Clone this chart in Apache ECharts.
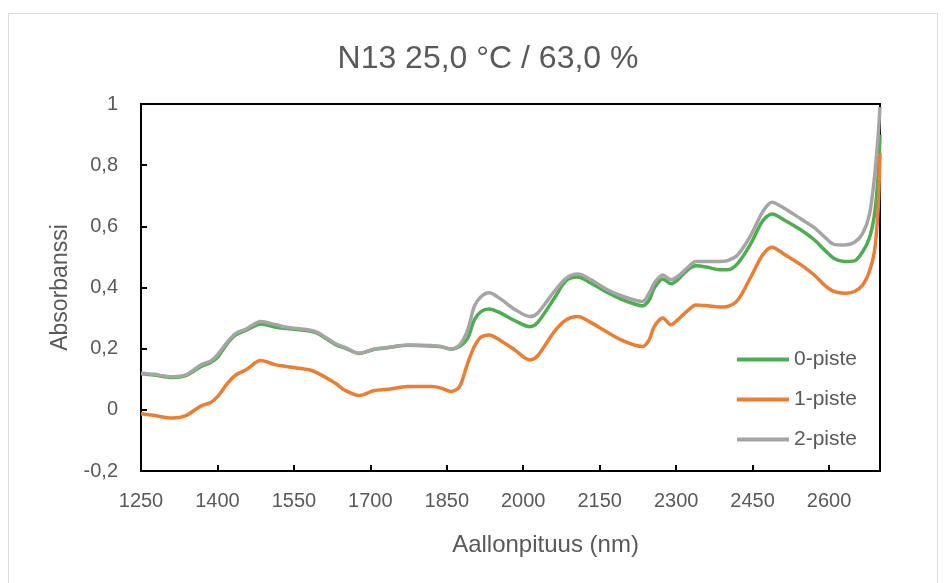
<!DOCTYPE html>
<html>
<head>
  <meta charset="UTF-8">
  <title>N13 25,0 °C / 63,0 %</title>
  <script src="https://cdn.jsdelivr.net/npm/echarts@6/dist/echarts.min.js"></script>
  <style>
    html, body { margin: 0; padding: 0; background: #fff; }
    #main { width: 944px; height: 583px; }
  </style>
</head>
<body>
<div id="main"></div>
<script type="text/javascript">
  // aallonpituudet (nm)
  var wavelengths = [1250,1275,1312,1338,1368,1387,1400,1420,1436,1456,1485,1515,1535,1580,1597,1633,1649,1678,1708,1734,
    1773,1819,1839,1858,1875,1891,1904,1917,1933,1956,1983,2013,2028,2061,2084,2107,2133,2166,2192,2218,
    2234,2247,2257,2274,2290,2303,2323,2339,2362,2385,2401,2421,2447,2470,2488,2512,2545,2571,2591,2610,
    2630,2650,2666,2679,2689,2696,2700];

  var piste0 = [0.118,0.114,0.106,0.112,0.142,0.155,0.172,0.218,0.245,0.26,0.281,0.27,0.266,0.258,0.25,0.212,0.203,0.184,0.198,0.203,
    0.211,0.209,0.206,0.198,0.207,0.234,0.294,0.321,0.33,0.316,0.292,0.272,0.285,0.365,0.422,0.434,0.414,0.383,0.362,0.346,
    0.34,0.359,0.398,0.428,0.412,0.425,0.458,0.471,0.466,0.458,0.458,0.479,0.545,0.618,0.64,0.621,0.588,0.556,0.523,0.495,
    0.485,0.487,0.517,0.561,0.637,0.757,0.9];

  var piste1 = [-0.013,-0.018,-0.027,-0.019,0.013,0.024,0.043,0.087,0.114,0.131,0.161,0.147,0.142,0.131,0.12,0.085,0.065,0.047,0.063,0.067,
    0.076,0.076,0.071,0.06,0.076,0.153,0.207,0.238,0.245,0.226,0.196,0.163,0.176,0.256,0.294,0.305,0.285,0.253,0.229,0.212,
    0.207,0.229,0.272,0.3,0.278,0.294,0.325,0.343,0.34,0.336,0.338,0.359,0.436,0.507,0.532,0.509,0.474,0.441,0.408,0.387,
    0.381,0.387,0.408,0.452,0.517,0.648,0.84];

  var piste2 = [0.12,0.116,0.108,0.114,0.147,0.16,0.18,0.223,0.25,0.264,0.289,0.278,0.27,0.261,0.253,0.215,0.205,0.185,0.199,0.204,
    0.212,0.21,0.207,0.199,0.212,0.261,0.338,0.37,0.383,0.362,0.329,0.305,0.316,0.387,0.43,0.444,0.425,0.392,0.373,0.359,
    0.354,0.381,0.414,0.441,0.425,0.436,0.466,0.485,0.485,0.485,0.488,0.507,0.572,0.648,0.679,0.659,0.624,0.596,0.566,0.541,
    0.539,0.548,0.577,0.637,0.757,0.888,0.99];

  var seriesNames = ['0-piste', '1-piste', '2-piste'];
  var seriesColors = ['#4cae4f', '#ed7d31', '#a5a5a5'];

  function pairs(vals){
    return wavelengths.map(function(w, i){ return [w, vals[i]]; });
  }

  var font = "'Liberation Sans', Arial, sans-serif";
  var grey = '#595959';

  var chart = echarts.init(document.getElementById('main'));
  chart.setOption({
    backgroundColor: '#fff',
    animation: false,
    title: {
      text: 'N13 25,0 °C / 63,0 %',
      left: 483, textAlign: 'center', top: 38,
      textStyle: { fontFamily: font, fontSize: 32, fontWeight: 'normal', color: grey }
    },
    graphic: [{
      type: 'rect', silent: true,
      shape: { x: 8.5, y: 13.5, width: 929, height: 620 },
      style: { fill: null, stroke: '#d9d9d9', lineWidth: 1 }
    }],
    legend: {
      orient: 'vertical',
      left: 732, top: 344,
      itemWidth: 52, itemHeight: 4, itemGap: 19,
      icon: 'rect',
      data: seriesNames,
      textStyle: { fontFamily: font, fontSize: 21, color: grey, lineHeight: 20 }
    },
    grid: {
      left: 141, top: 104, right: 64, bottom: 112,
      show: true, borderColor: '#000', borderWidth: 2
    },
    xAxis: {
      type: 'value', min: 1250, max: 2700, interval: 150,
      name: 'Aallonpituus (nm)', nameLocation: 'middle', nameGap: 62,
      nameTextStyle: { fontFamily: font, fontSize: 24, color: grey, padding: [0, 0, 0, 70] },
      axisLine: { onZero: false, lineStyle: { color: '#000', width: 2 } },
      axisTick: { inside: true, length: 6, lineStyle: { color: '#000', width: 2 } },
      axisLabel: {
        margin: 20, showMaxLabel: false,
        fontFamily: font, fontSize: 20, color: grey,
        formatter: function(v){ return String(v); }
      },
      splitLine: { show: false }
    },
    yAxis: {
      type: 'value', min: -0.2, max: 1, interval: 0.2,
      name: 'Absorbanssi', nameLocation: 'middle', nameGap: 68,
      nameTextStyle: { fontFamily: font, fontSize: 23, color: grey },
      axisLine: { show: true, onZero: false, lineStyle: { color: '#000', width: 2 } },
      axisTick: { show: true, inside: true, length: 6, lineStyle: { color: '#000', width: 2 } },
      axisLabel: {
        margin: 23, fontFamily: font, fontSize: 20, color: grey,
        formatter: function(v){
          var r = Math.round(v * 10) / 10;
          if (r === 0) return '0';
          if (r === 1) return '1';
          return r.toFixed(1).replace('.', ',');
        }
      },
      splitLine: { show: false }
    },
    series: [piste0, piste1, piste2].map(function(vals, i){
      return {
        name: seriesNames[i],
        type: 'line',
        data: pairs(vals),
        showSymbol: false,
        smooth: 0.3,
        color: seriesColors[i],
        lineStyle: { width: 3.5, color: seriesColors[i] }
      };
    })
  });
</script>
</body>
</html>
